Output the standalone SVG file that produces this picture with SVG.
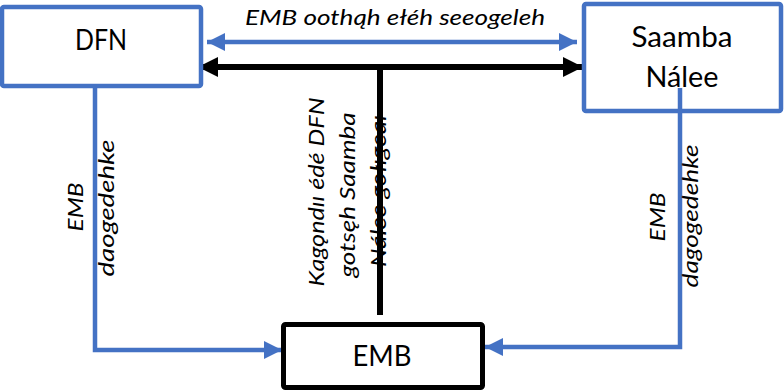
<svg xmlns="http://www.w3.org/2000/svg" width="784" height="391" viewBox="0 0 784 391">
<style>
.bluebox{fill:#fff;stroke:#4472C4;stroke-width:4.5}
.blackbox{fill:#fff;stroke:#000;stroke-width:5}
.bl{fill:none;stroke:#4472C4;stroke-width:4.5}
.bk{fill:none;stroke:#000;stroke-width:6}
.name{font-family:Lato,"Noto Sans","Liberation Sans",sans-serif;font-size:29px;fill:#000;text-anchor:middle}
.lab{font-family:Lato,"Noto Sans","Liberation Sans",sans-serif;font-size:21px;font-style:italic;fill:#000;text-anchor:middle}
</style>
<defs>
<marker id="ab" markerUnits="userSpaceOnUse" markerWidth="20" markerHeight="20" refX="18" refY="9" orient="auto-start-reverse"><path d="M0,0 L18,9 L0,18 Z" fill="#4472C4"/></marker>
<marker id="ak" markerUnits="userSpaceOnUse" markerWidth="22" markerHeight="22" refX="20" refY="10" orient="auto-start-reverse"><path d="M0,0 L20,10 L0,20 Z" fill="#000"/></marker>
</defs>
<g id="connectors">
<line class="bl" x1="207" y1="42" x2="577" y2="42" marker-start="url(#ab)" marker-end="url(#ab)"/>
<line class="bk" x1="198" y1="67" x2="583" y2="67" marker-start="url(#ak)" marker-end="url(#ak)"/>
<line class="bk" x1="380" y1="67" x2="380" y2="315"/>
<polyline class="bl" points="95,88 95,350 282,350" marker-end="url(#ab)"/>
<polyline class="bl" points="680,88 680,347 485,347" marker-end="url(#ab)"/>
<text class="lab" x="395" y="25" textLength="300" lengthAdjust="spacingAndGlyphs">EMB oothąh ełéh seeogeleh</text>
<text class="lab" transform="translate(83,207) rotate(-90)" textLength="49" lengthAdjust="spacingAndGlyphs">EMB</text>
<text class="lab" transform="translate(114,208) rotate(-90)" textLength="137" lengthAdjust="spacingAndGlyphs">daogedehke</text>
<text class="lab" transform="translate(665,217) rotate(-90)" textLength="49" lengthAdjust="spacingAndGlyphs">EMB</text>
<text class="lab" transform="translate(698,216) rotate(-90)" textLength="143" lengthAdjust="spacingAndGlyphs">dagogedehke</text>
<text class="lab" transform="translate(324,192) rotate(-90)" textLength="189" lengthAdjust="spacingAndGlyphs">Kagǫndıı édé DFN</text>
<text class="lab" transform="translate(355,195) rotate(-90)" textLength="165" lengthAdjust="spacingAndGlyphs">gotsęh Saamba</text>
<text class="lab" transform="translate(386,191) rotate(-90)" textLength="152" lengthAdjust="spacingAndGlyphs">Nálee gołıgeaı</text>
</g>
<g id="node-dfn">
<rect class="bluebox" x="2" y="7" width="199" height="79" rx="2"/>
<text class="name" x="101" y="50" textLength="52" lengthAdjust="spacingAndGlyphs">DFN</text>
</g>
<g id="node-saamba">
<rect class="bluebox" x="584" y="4" width="197" height="107" rx="2"/>
<text class="name" x="682" y="47" textLength="101" lengthAdjust="spacingAndGlyphs">Saamba</text>
<text class="name" x="682" y="87" textLength="73" lengthAdjust="spacingAndGlyphs">Nálee</text>
</g>
<line class="bl" x1="680" y1="88" x2="680" y2="113"/>
<g id="node-emb">
<rect class="blackbox" x="283.5" y="324.5" width="199" height="63" rx="2"/>
<text class="name" x="382" y="366" textLength="59" lengthAdjust="spacingAndGlyphs">EMB</text>
</g>
</svg>
